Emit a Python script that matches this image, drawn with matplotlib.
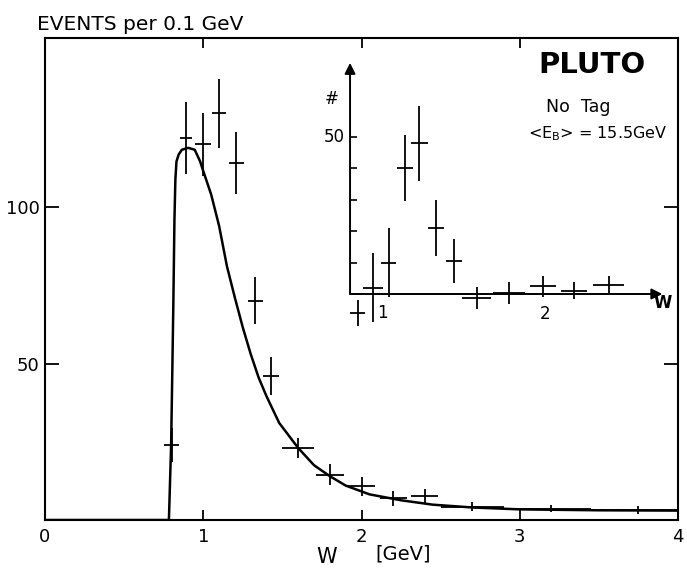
import numpy as np
import matplotlib
matplotlib.use("Agg")
import matplotlib.pyplot as plt

# W spectrum, events per 0.1 GeV
main_w = [0.80, 0.89, 1.00, 1.10, 1.21, 1.33, 1.43, 1.60, 1.80, 2.00, 2.20, 2.40, 2.70, 3.20, 3.75]
main_n = [24, 122, 120, 130, 114, 70, 46, 23, 14.5, 10.8, 7.0, 7.6, 4.3, 3.6, 3.2]
main_dw = [0.045, 0.04, 0.05, 0.045, 0.045, 0.045, 0.05, 0.1, 0.09, 0.085, 0.085, 0.085, 0.2, 0.25, 0.25]
main_dn = [5.5, 11.5, 10, 11, 10, 7.5, 6, 3.3, 3.4, 3.0, 2.4, 2.3, 1.5, 1.2, 1.2]

# model curve
curve_w = [0.0, 0.783, 0.790, 0.797, 0.804, 0.811, 0.818, 0.824, 0.831, 0.845, 0.865, 0.905,
           0.946, 0.98, 1.0, 1.05, 1.10, 1.15, 1.20, 1.25, 1.30, 1.35, 1.40, 1.48, 1.60,
           1.70, 1.80, 1.90, 2.05, 2.25, 2.45, 2.70, 3.00, 3.50, 4.00]
curve_n = [0, 0, 12, 24, 46, 69, 96, 109, 114.6, 116.8, 118.3, 118.9,
           118.3, 114.6, 111.5, 104, 94, 81, 71, 61.5, 53, 45.5, 39.5, 31, 23,
           17.5, 14, 11, 8.2, 6.3, 4.9, 4.0, 3.4, 3.1, 3.0]

# inset: background subtracted
ins_w = [0.85, 0.945, 1.04, 1.14, 1.23, 1.33, 1.44, 1.58, 1.78, 1.99, 2.18, 2.39]
ins_n = [-6, 2, 10, 40, 48, 21, 10.5, -1.3, 0.3, 2.5, 1, 2.9]
ins_dw = [0.045, 0.06, 0.045, 0.05, 0.05, 0.05, 0.05, 0.09, 0.1, 0.08, 0.08, 0.095]
ins_dn = [4.2, 11, 11, 10.5, 12, 9, 7, 3.6, 3.5, 3.3, 2.7, 2.7]

W, H = 687, 573

def px(x, y):
    return x / W, 1 - y / H

def rect(x0, y0, x1, y1):
    return [x0 / W, 1 - y1 / H, (x1 - x0) / W, (y1 - y0) / H]

fig = plt.figure(figsize=(W / 100, H / 100), dpi=100)
fig.patch.set_facecolor("white")

ax = fig.add_axes(rect(45, 38, 678, 520))
ax.plot(curve_w, curve_n, color="k", lw=1.8, solid_joinstyle="round")
ax.errorbar(main_w, main_n, xerr=main_dw, yerr=main_dn, fmt="none",
            ecolor="k", elinewidth=1.3, capsize=0)
ax.set_xlim(0, 4)
ax.set_ylim(0, 154)
ax.set_xticks([0, 1, 2, 3, 4])
ax.set_xticklabels(["0", "1", "2", "3", "4"])
ax.set_yticks([50, 100])
for s in ax.spines.values():
    s.set_linewidth(1.5)
ax.tick_params(axis="x", direction="in", length=7, width=1.3, top=True,
               labelsize=13, pad=6)
ax.tick_params(axis="y", direction="in", length=10, width=1.3, right=True,
               labelsize=13, pad=4)
# no tick marks at the corners
for t in [ax.xaxis.get_major_ticks()[0], ax.xaxis.get_major_ticks()[-1]]:
    t.tick1line.set_visible(False)
    t.tick2line.set_visible(False)

fig.text(*px(37, 25), "EVENTS per 0.1 GeV", fontsize=14.5, va="center", ha="left")
fig.text(*px(327, 557), "W", fontsize=15, ha="center", va="center")
fig.text(*px(403, 554), "[GeV]", fontsize=14, ha="center", va="center")

fig.text(*px(592, 65), "PLUTO", fontsize=21, fontweight="bold", ha="center", va="center")
fig.text(*px(578, 107), "No  Tag", fontsize=12.5, ha="center", va="center")
fig.text(*px(598, 134), r"<E$_\mathregular{B}$> = 15.5GeV", fontsize=11.5,
         ha="center", va="center")

# inset axes, drawn by hand with arrows
ax_in = fig.add_axes(rect(300, 50, 687, 345))
ax_in.set_xlim(0.497, 2.871)
ax_in.set_ylim(-16.24, 77.7)
ax_in.axis("off")
ax_in.patch.set_alpha(0)

x0 = 0.804
arrow = dict(arrowstyle="-|>", lw=1.4, color="k", mutation_scale=16, shrinkA=0, shrinkB=0)
ax_in.annotate("", xy=(2.72, 0), xytext=(x0, 0), arrowprops=arrow)
ax_in.annotate("", xy=(x0, 73.6), xytext=(x0, 0), arrowprops=arrow)
ax_in.hlines([10, 20, 30, 40, 50], x0, x0 + 0.04, color="k", lw=1.2)
ax_in.errorbar(ins_w, ins_n, xerr=ins_dw, yerr=ins_dn, fmt="none",
               ecolor="k", elinewidth=1.3, capsize=0)

ax_in.text(x0 - 0.03, 50, "50", fontsize=12, ha="right", va="center")
ax_in.text(x0 - 0.11, 62, "#", fontsize=12, ha="center", va="center")
ax_in.text(1.0, -6.2, "1", fontsize=12, ha="center", va="center")
ax_in.text(2.0, -6.5, "2", fontsize=12, ha="center", va="center")
ax_in.text(2.72, -2.9, "W", fontsize=12, fontweight="bold", ha="center", va="center")

fig.savefig("out.png", dpi=100)
